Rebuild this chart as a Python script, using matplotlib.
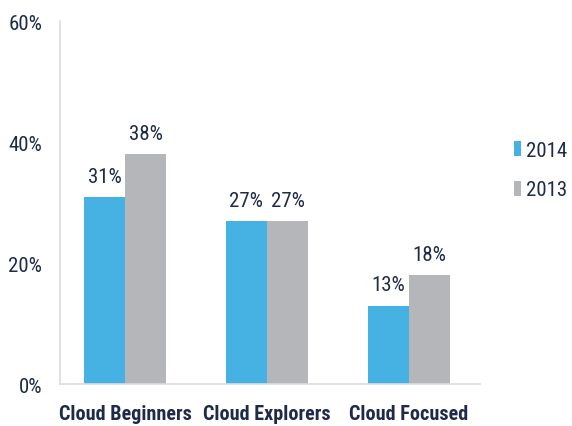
import matplotlib.pyplot as plt
import numpy as np

categories = ['Cloud Beginners', 'Cloud Explorers', 'Cloud Focused']
y2014 = [31, 27, 13]
y2013 = [38, 27, 18]
yticks = [0, 20, 40, 60]

plt.rcParams['font.family'] = ['Roboto Condensed', 'DejaVu Sans']

navy = '#1e2a48'
blue = '#46b2e3'
gray = '#b5b6b9'

fig = plt.figure(figsize=(5.72, 4.27), dpi=100)
ax = fig.add_axes([0.105, 0.098, 0.734, 0.85])

x = np.arange(len(categories))
w = 0.29
b1 = ax.bar(x - w/2, y2014, w, color=blue, label='2014')
b2 = ax.bar(x + w/2, y2013, w, color=gray, label='2013')

for bars, vals in [(b1, y2014), (b2, y2013)]:
    for r, v in zip(bars, vals):
        ax.annotate(f'{v}%', (r.get_x() + r.get_width()/2, v), xytext=(0, 8),
                    textcoords='offset points', ha='center', va='bottom',
                    fontsize=15, color=navy)

ax.set_xlim(-0.458, 2.5)
ax.set_ylim(0, 60)
ax.set_yticks(yticks)
ax.set_yticklabels([f'{t}%' for t in yticks], fontsize=15, color=navy)
ax.set_xticks(x)
ax.set_xticklabels(categories, fontsize=14.5, fontweight='bold', color=navy)
ax.tick_params(length=0)
ax.tick_params(axis='y', pad=13)
ax.tick_params(axis='x', pad=14)
for s in ['top', 'right']:
    ax.spines[s].set_visible(False)
for s in ['left', 'bottom']:
    ax.spines[s].set_color('#dcdcdc')
    ax.spines[s].set_linewidth(1.2)

leg = ax.legend(loc='center left', bbox_to_anchor=(1.036, 0.59), frameon=False,
                fontsize=15, handlelength=0.35, handleheight=0.75, handletextpad=0.25,
                labelspacing=1.0)
for t in leg.get_texts():
    t.set_color(navy)

fig.savefig('out.png', dpi=100)
